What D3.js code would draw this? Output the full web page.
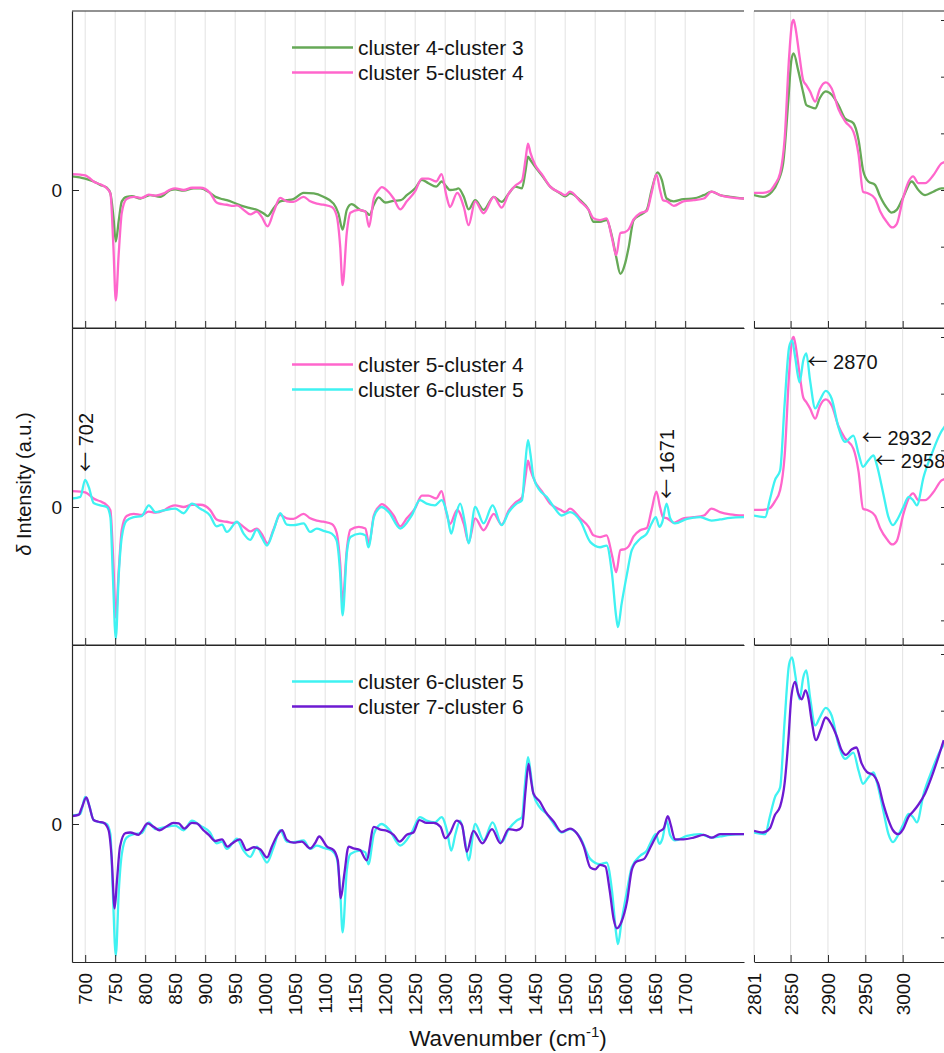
<!DOCTYPE html>
<html>
<head>
<meta charset="utf-8">
<script src="https://cdn.jsdelivr.net/npm/d3@7"></script>
<style>
  html, body { margin: 0; padding: 0; background: #fff; }
  svg { display: block; font-family: "Liberation Sans", Arial, Helvetica, sans-serif; }
</style>
</head>
<body>
<svg id="chart" width="944" height="1053"></svg>
<script>
// Difference spectra between consecutive clusters: [wavenumber, δ intensity]
// Fingerprint region (cm^-1)
const diff43Fingerprint = [
  [678,0.24],[700,0.2],[714,0.15],[725,0.09],[736,0.04],[742,-0.06],[747,-0.47],[751,-0.91],[756,-0.53],
  [761,-0.2],[769,-0.12],[778,-0.11],[792,-0.15],[808,-0.09],[825,-0.12],[842,0.0],[850,0.01],[864,-0.01],
  [881,0.03],[892,0.03],[908,-0.05],[917,-0.12],[925,-0.15],[936,-0.18],[947,-0.22],[964,-0.29],[975,-0.32],
  [986,-0.35],[997,-0.41],[1004,-0.46],[1014,-0.32],[1025,-0.2],[1036,-0.18],[1047,-0.16],[1064,-0.05],
  [1081,-0.06],[1097,-0.12],[1114,-0.24],[1122,-0.41],[1129,-0.7],[1136,-0.35],[1144,-0.25],[1158,-0.35],
  [1167,-0.38],[1174,-0.44],[1181,-0.26],[1189,-0.13],[1200,-0.22],[1214,-0.19],[1226,-0.18],[1236,-0.09],
  [1250,0.03],[1261,0.18],[1272,0.12],[1285,0.06],[1294,0.15],[1302,0.06],[1308,0.0],[1317,0.01],[1322,0.03],
  [1331,-0.12],[1339,-0.34],[1350,-0.18],[1364,-0.35],[1381,-0.12],[1394,-0.21],[1406,-0.06],[1417,0.06],
  [1428,0.03],[1434,0.35],[1438,0.59],[1442,0.53],[1450,0.41],[1461,0.26],[1475,0.06],[1492,-0.06],
  [1500,-0.11],[1508,-0.06],[1525,-0.18],[1539,-0.35],[1547,-0.56],[1558,-0.56],[1569,-0.53],[1578,-0.82],
  [1585,-1.18],[1592,-1.48],[1600,-1.29],[1606,-1.0],[1614,-0.53],[1625,-0.44],[1636,-0.35],[1644,0.0],
  [1654,0.31],[1661,0.18],[1669,-0.15],[1681,-0.2],[1697,-0.16],[1714,-0.15],[1731,-0.09],[1744,-0.03],
  [1758,-0.09],[1775,-0.12],[1798,-0.15]
];
const diff54Fingerprint = [
  [678,0.28],[692,0.27],[700,0.26],[706,0.22],[714,0.15],[725,0.1],[736,0.03],[742,-0.06],[747,-1.0],
  [751,-1.95],[756,-1.1],[761,-0.4],[769,-0.16],[781,-0.12],[794,-0.14],[806,-0.08],[817,-0.1],[831,-0.06],
  [842,0.01],[850,0.03],[864,0.0],[878,0.04],[892,0.04],[908,-0.05],[919,-0.22],[928,-0.25],[936,-0.26],
  [947,-0.28],[953,-0.27],[964,-0.35],[975,-0.43],[986,-0.38],[994,-0.47],[1004,-0.64],[1014,-0.39],
  [1025,-0.14],[1036,-0.2],[1047,-0.21],[1064,-0.12],[1075,-0.2],[1086,-0.24],[1097,-0.26],[1111,-0.3],
  [1119,-0.45],[1125,-1.0],[1129,-1.68],[1136,-0.75],[1142,-0.4],[1156,-0.35],[1167,-0.38],[1173,-0.65],
  [1181,-0.15],[1189,0.0],[1194,0.05],[1206,-0.04],[1214,-0.15],[1225,-0.34],[1236,-0.2],[1250,-0.02],
  [1261,0.2],[1272,0.2],[1285,0.15],[1294,0.28],[1302,-0.1],[1308,-0.3],[1320,-0.05],[1331,-0.3],
  [1339,-0.62],[1350,-0.2],[1364,-0.41],[1381,-0.12],[1394,-0.31],[1406,-0.06],[1417,0.08],[1428,0.17],
  [1434,0.55],[1438,0.82],[1442,0.66],[1450,0.44],[1461,0.28],[1475,0.06],[1492,-0.05],[1500,-0.09],
  [1508,-0.03],[1525,-0.2],[1539,-0.35],[1547,-0.5],[1558,-0.53],[1569,-0.5],[1578,-0.85],[1585,-1.15],
  [1592,-0.76],[1600,-0.74],[1606,-0.69],[1614,-0.52],[1625,-0.41],[1636,-0.37],[1644,-0.05],[1652,0.27],
  [1658,0.0],[1663,-0.18],[1670,-0.2],[1681,-0.28],[1697,-0.2],[1714,-0.18],[1731,-0.15],[1744,-0.03],
  [1758,-0.09],[1775,-0.13],[1798,-0.15]
];
const diff65Fingerprint = [
  [678,0.15],[692,0.18],[700,0.48],[706,0.35],[714,0.07],[725,0.03],[736,0.0],[742,-0.18],[746,-1.18],
  [751,-2.32],[756,-1.18],[761,-0.53],[769,-0.24],[781,-0.18],[794,-0.16],[806,0.03],[817,-0.09],[831,-0.06],
  [850,-0.03],[864,-0.11],[878,0.06],[892,-0.03],[908,-0.15],[919,-0.34],[928,-0.31],[936,-0.44],[953,-0.26],
  [964,-0.47],[975,-0.58],[986,-0.4],[994,-0.53],[1003,-0.68],[1014,-0.41],[1025,-0.11],[1036,-0.31],
  [1047,-0.32],[1064,-0.29],[1075,-0.44],[1086,-0.38],[1097,-0.42],[1111,-0.47],[1119,-0.59],[1125,-1.18],
  [1129,-1.91],[1136,-0.82],[1142,-0.53],[1158,-0.47],[1167,-0.5],[1172,-0.71],[1181,-0.18],[1189,-0.03],
  [1194,0.0],[1206,-0.09],[1225,-0.38],[1244,-0.15],[1258,0.12],[1269,0.06],[1283,0.03],[1294,0.12],
  [1303,-0.12],[1310,-0.47],[1317,-0.18],[1325,0.06],[1333,-0.29],[1339,-0.64],[1350,0.0],[1364,-0.29],
  [1379,0.03],[1394,-0.32],[1406,-0.09],[1419,0.06],[1428,0.12],[1433,0.71],[1438,1.18],[1442,0.94],
  [1447,0.53],[1458,0.29],[1469,0.18],[1481,0.0],[1494,-0.15],[1508,-0.09],[1525,-0.24],[1542,-0.62],
  [1558,-0.71],[1569,-0.68],[1578,-1.18],[1585,-1.94],[1588,-2.12],[1594,-1.71],[1603,-1.18],[1611,-0.76],
  [1625,-0.56],[1636,-0.47],[1644,-0.29],[1651,-0.18],[1657,-0.35],[1662,-0.26],[1669,0.06],[1675,-0.2],
  [1683,-0.29],[1703,-0.21],[1725,-0.18],[1744,-0.24],[1758,-0.22],[1775,-0.19],[1798,-0.18]
];
const diff76Fingerprint = [
  [678,0.14],[689,0.16],[694,0.28],[702,0.47],[707,0.31],[714,0.07],[722,0.04],[731,0.02],[739,-0.11],
  [744,-0.58],[749,-1.49],[753,-0.99],[758,-0.4],[767,-0.16],[775,-0.15],[789,-0.19],[794,-0.13],[804,0.01],
  [814,-0.05],[824,-0.11],[836,-0.04],[847,0.02],[856,0.01],[865,-0.08],[878,0.02],[886,0.01],[897,-0.11],
  [906,-0.19],[917,-0.3],[928,-0.27],[937,-0.4],[944,-0.35],[958,-0.27],[969,-0.46],[981,-0.41],[992,-0.45],
  [1003,-0.59],[1011,-0.4],[1019,-0.22],[1028,-0.11],[1036,-0.28],[1047,-0.33],[1061,-0.31],[1075,-0.43],
  [1083,-0.34],[1090,-0.22],[1103,-0.4],[1114,-0.46],[1121,-0.64],[1126,-1.31],[1132,-0.87],[1139,-0.4],
  [1147,-0.43],[1158,-0.46],[1169,-0.64],[1181,-0.05],[1192,-0.1],[1203,-0.12],[1214,-0.19],[1224,-0.31],
  [1236,-0.19],[1247,-0.15],[1257,0.07],[1269,0.02],[1281,0.02],[1292,-0.05],[1300,-0.25],[1308,-0.16],
  [1319,0.06],[1328,-0.02],[1336,-0.49],[1347,-0.12],[1362,-0.34],[1378,-0.09],[1392,-0.34],[1406,-0.09],
  [1419,-0.11],[1428,-0.05],[1434,0.6],[1439,1.06],[1443,0.78],[1447,0.54],[1458,0.39],[1467,0.22],
  [1481,0.04],[1494,-0.14],[1508,-0.08],[1519,-0.16],[1531,-0.4],[1542,-0.77],[1550,-0.8],[1558,-0.72],
  [1567,-0.75],[1574,-1.16],[1581,-1.69],[1586,-1.84],[1594,-1.72],[1603,-1.37],[1611,-0.81],[1619,-0.66],
  [1631,-0.62],[1644,-0.37],[1656,-0.14],[1664,-0.08],[1671,0.14],[1676,-0.02],[1683,-0.27],[1697,-0.27],
  [1714,-0.24],[1731,-0.19],[1744,-0.24],[1758,-0.18],[1775,-0.18],[1798,-0.18]
];

// High-wavenumber (C–H stretching) region (cm^-1)
const diff43HighWn = [
  [2801,-0.09],[2813,-0.12],[2825,-0.03],[2833,0.15],[2840,0.47],[2847,1.59],[2851,2.29],[2854,2.41],
  [2860,2.12],[2867,1.71],[2871,1.5],[2876,1.47],[2883,1.44],[2889,1.62],[2897,1.74],[2905,1.68],
  [2914,1.5],[2923,1.26],[2934,1.18],[2941,0.88],[2947,0.35],[2954,0.15],[2963,0.09],[2970,-0.12],
  [2979,-0.32],[2985,-0.4],[2992,-0.35],[3001,-0.12],[3012,0.15],[3021,0.0],[3030,-0.09],[3041,-0.03],
  [3052,0.03],[3058,0.03]
];
const diff54HighWn = [
  [2801,-0.05],[2813,-0.05],[2822,-0.02],[2829,0.1],[2836,0.3],[2842,0.9],[2848,2.35],[2852,2.95],
  [2854,3.0],[2856,2.9],[2862,2.35],[2867,1.93],[2871,1.85],[2876,1.74],[2883,1.56],[2889,1.78],
  [2897,1.9],[2905,1.79],[2914,1.43],[2923,1.21],[2934,1.03],[2941,0.62],[2947,-0.03],[2954,-0.06],
  [2963,-0.15],[2970,-0.38],[2979,-0.57],[2986,-0.66],[2992,-0.6],[3001,-0.12],[3008,0.15],[3014,0.24],
  [3021,0.12],[3030,0.12],[3041,0.26],[3052,0.47],[3058,0.5]
];
const diff65HighWn = [
  [2801,-0.15],[2816,-0.18],[2822,0.12],[2829,0.47],[2836,0.65],[2842,1.82],[2848,2.82],[2852,2.94],
  [2856,2.65],[2862,2.2],[2867,2.59],[2871,2.71],[2876,2.24],[2883,1.74],[2889,1.88],[2897,2.05],
  [2905,1.91],[2914,1.41],[2923,1.15],[2934,1.26],[2941,0.94],[2947,0.71],[2954,0.82],[2961,0.91],
  [2965,0.76],[2974,0.24],[2981,-0.18],[2987,-0.32],[2992,-0.24],[3001,0.0],[3008,0.18],[3014,0.12],
  [3019,0.03],[3028,0.53],[3039,0.94],[3050,1.29],[3058,1.45]
];
const diff76HighWn = [
  [2801,-0.12],[2813,-0.15],[2822,-0.08],[2829,0.16],[2836,0.31],[2842,0.72],[2847,1.48],[2851,2.25],
  [2856,2.51],[2860,2.31],[2865,2.2],[2870,2.36],[2874,2.2],[2878,1.84],[2884,1.48],[2890,1.66],
  [2897,1.88],[2905,1.75],[2912,1.54],[2918,1.31],[2924,1.22],[2932,1.32],[2938,1.35],[2945,1.07],
  [2952,0.92],[2961,0.86],[2967,0.72],[2974,0.36],[2981,0.07],[2987,-0.11],[2994,-0.18],[3001,-0.08],
  [3008,0.13],[3014,0.22],[3021,0.34],[3030,0.54],[3039,0.84],[3048,1.19],[3055,1.48]
];

const fingerprintTicks = [700,750,800,850,900,950,1000,1050,1100,1150,1200,1250,1300,1350,1400,1450,1500,1550,1600,1650,1700];
const highWnTicks = [2801,2850,2900,2950,3000];
const rightAxisTicks = [-2,-1,0,1,2,3];

const seriesNames = ["cluster 4-cluster 3","cluster 5-cluster 4","cluster 6-cluster 5","cluster 7-cluster 6"];
const seriesColors = ["#66a957","#ff66cc","#3ff2f2","#6d1ad2"];

// Which pair of series appears in each stacked panel
const panelSeries = [[0,1],[1,2],[2,3]];

// Peak annotations (middle panel): horizontal ones in the C–H region, vertical ones in the fingerprint
const peakLabels = [
  {label:"702",  wn:702,  v:0.62, region:"fp", vertical:true},
  {label:"1671", wn:1669, v:0.14, region:"fp", vertical:true},
  {label:"2870", wn:2870, v:2.56, region:"hw", vertical:false},
  {label:"2932", wn:2932, v:1.21, region:"hw", vertical:false},
  {label:"2958", wn:2958, v:0.81, region:"hw", vertical:false}
];

const fingerprintData = [diff43Fingerprint, diff54Fingerprint, diff65Fingerprint, diff76Fingerprint];
const highWnData = [diff43HighWn, diff54HighWn, diff65HighWn, diff76HighWn];

// ---------- layout ----------
const svg = d3.select("#chart");
const W = 944, H = 1053;
const panelTop = [11, 328, 645];
const panelH = 317;
const fpLeft = 72, fpRight = 744, hwLeft = 754, hwRight = 946;
const yDomain = [-2.435, 3.159];
const font = '"Liberation Sans", Arial, Helvetica, sans-serif';
const arrowFont = '"Noto Sans CJK SC", "DejaVu Sans", sans-serif';
const axisColor = "#262626";
const gridColor = "#e2e2e2";
const textColor = "#141414";

svg.append("rect").attr("width", W).attr("height", H).attr("fill", "#fff");

const xFp = d3.scaleLinear().domain([678, 1798]).range([fpLeft, fpRight]);
const xHw = d3.scaleLinear().domain([2801, 3058]).range([hwLeft, hwRight]);

const defs = svg.append("defs");

// "← label" text with a long, thin arrow glyph
function arrowText(sel, label) {
  sel.append("tspan").attr("font-family", arrowFont).attr("font-size", 20).text("\u2190");
  sel.append("tspan").text("\u00a0" + label);
}

panelTop.forEach((top, p) => {
  const y = d3.scaleLinear().domain(yDomain).range([top + panelH, top]);
  const g = svg.append("g");

  // clip regions for the two x-ranges
  defs.append("clipPath").attr("id", `clipFp${p}`).append("rect")
    .attr("x", fpLeft).attr("y", top).attr("width", fpRight - fpLeft).attr("height", panelH);
  defs.append("clipPath").attr("id", `clipHw${p}`).append("rect")
    .attr("x", hwLeft).attr("y", top).attr("width", hwRight - hwLeft).attr("height", panelH);

  // vertical grid lines
  g.append("g").selectAll("line").data(fingerprintTicks).join("line")
    .attr("x1", d => xFp(d)).attr("x2", d => xFp(d))
    .attr("y1", top).attr("y2", top + panelH)
    .attr("stroke", gridColor).attr("stroke-width", 1);
  g.append("g").selectAll("line").data(highWnTicks).join("line")
    .attr("x1", d => xHw(d)).attr("x2", d => xHw(d))
    .attr("y1", top).attr("y2", top + panelH)
    .attr("stroke", gridColor).attr("stroke-width", 1);

  // spectra
  const line = (xs) => d3.line().x(d => xs(d[0])).y(d => y(d[1])).curve(d3.curveMonotoneX);
  panelSeries[p].forEach(si => {
    g.append("path").datum(fingerprintData[si])
      .attr("clip-path", `url(#clipFp${p})`)
      .attr("d", line(xFp))
      .attr("fill", "none").attr("stroke", seriesColors[si])
      .attr("stroke-width", 2.3).attr("stroke-linejoin", "round");
    g.append("path").datum(highWnData[si])
      .attr("clip-path", `url(#clipHw${p})`)
      .attr("d", line(xHw))
      .attr("fill", "none").attr("stroke", seriesColors[si])
      .attr("stroke-width", 2.3).attr("stroke-linejoin", "round");
  });

  // top borders
  g.append("line").attr("x1", fpLeft).attr("x2", fpRight).attr("y1", top).attr("y2", top)
    .attr("stroke", axisColor).attr("stroke-width", 1.2);
  g.append("line").attr("x1", hwLeft).attr("x2", hwRight).attr("y1", top).attr("y2", top)
    .attr("stroke", axisColor).attr("stroke-width", 1.2);

  // bottom axes (ticks inward)
  const isLast = p === panelTop.length - 1;
  const styleAxis = sel => {
    sel.selectAll("path.domain").attr("stroke", axisColor).attr("stroke-width", 1.2);
    sel.selectAll(".tick line").attr("stroke", axisColor).attr("stroke-width", 1);
    sel.selectAll("text").attr("fill", textColor).attr("font-size", 19).attr("font-family", font);
  };
  const axFp = g.append("g").attr("transform", `translate(0,${top + panelH})`)
    .call(d3.axisBottom(xFp).tickValues(fingerprintTicks).tickSizeInner(-7).tickSizeOuter(0)
      .tickFormat(isLast ? d3.format("d") : () => ""));
  const axHw = g.append("g").attr("transform", `translate(0,${top + panelH})`)
    .call(d3.axisBottom(xHw).tickValues(highWnTicks).tickSizeInner(-7).tickSizeOuter(0)
      .tickFormat(isLast ? d3.format("d") : () => ""));
  [axFp, axHw].forEach(ax => {
    styleAxis(ax);
    ax.selectAll(".tick text")
      .attr("transform", "rotate(-90)")
      .attr("text-anchor", "end")
      .attr("x", -11).attr("y", 0).attr("dy", "0.35em");
  });

  // left axis: only the zero tick
  const axL = g.append("g").attr("transform", `translate(${fpLeft},0)`)
    .call(d3.axisLeft(y).tickValues([0]).tickSizeInner(-7).tickSizeOuter(0).tickPadding(10).tickFormat(d3.format("d")));
  styleAxis(axL);

  // right axis of the C–H region: tick marks only at the frame edge
  const axR = g.append("g").attr("transform", `translate(${hwRight},0)`)
    .call(d3.axisRight(y).tickValues(rightAxisTicks).tickSizeInner(-5).tickSizeOuter(0).tickFormat(() => ""));
  styleAxis(axR);
  axR.selectAll(".tick text").remove();

  // legend
  const lg = g.append("g");
  panelSeries[p].forEach((si, k) => {
    const ly = top + 36.5 + k * 25;
    lg.append("line").attr("x1", 292).attr("x2", 353).attr("y1", ly).attr("y2", ly)
      .attr("stroke", seriesColors[si]).attr("stroke-width", 2.6);
    lg.append("text").attr("x", 358).attr("y", ly).attr("dy", "0.35em")
      .attr("font-size", 21).attr("font-family", font).attr("fill", textColor)
      .text(seriesNames[si]);
  });

  // peak annotations on the middle panel
  if (p === 1) {
    const nudge = {"2870": 2, "2932": 10, "2958": 4};
    peakLabels.forEach(a => {
      const xs = a.region === "fp" ? xFp : xHw;
      const px = xs(a.wn), py = y(a.v);
      const t = g.append("text")
        .attr("dy", "0.35em")
        .attr("font-size", 20).attr("font-family", font).attr("fill", textColor);
      if (a.vertical) {
        t.attr("transform", `translate(${px},${py}) rotate(-90)`).attr("x", 0);
      } else {
        t.attr("x", px + (nudge[a.label] || 0)).attr("y", py);
      }
      arrowText(t, a.label);
    });
  }
});

// axis titles
svg.append("text")
  .attr("transform", `translate(31,484) rotate(-90)`)
  .attr("text-anchor", "middle")
  .attr("font-size", 20).attr("font-family", font).attr("fill", textColor)
  .call(t => {
    t.append("tspan").attr("font-style", "italic").text("\u03b4");
    t.append("tspan").text(" Intensity (a.u.)");
  });

svg.append("text")
  .attr("x", 508).attr("y", 1046)
  .attr("text-anchor", "middle")
  .attr("font-size", 22.5).attr("font-family", font).attr("fill", textColor)
  .call(t => {
    t.append("tspan").text("Wavenumber (cm");
    t.append("tspan").attr("font-size", 15).attr("dy", -9).text("-1");
    t.append("tspan").attr("dy", 9).text(")");
  });
</script>
</body>
</html>
